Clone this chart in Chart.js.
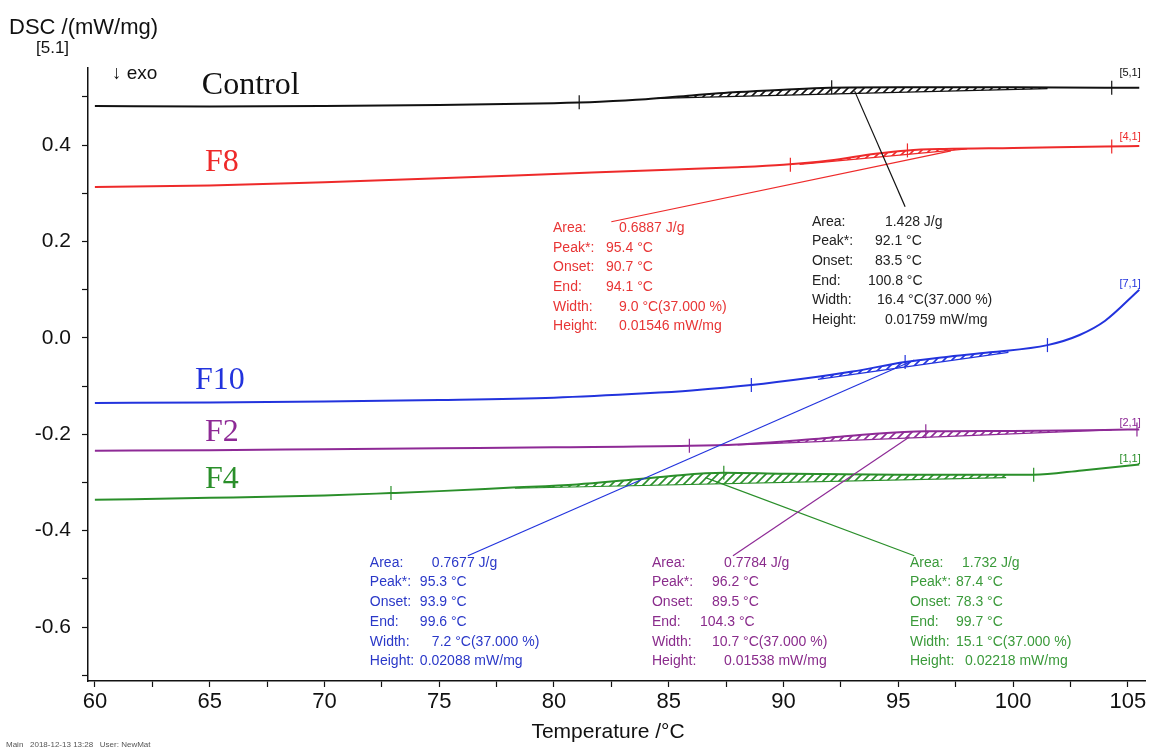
<!DOCTYPE html>
<html>
<head>
<meta charset="utf-8">
<script src="https://cdn.jsdelivr.net/npm/chart.js@4"></script>
<style>
  html, body { margin: 0; padding: 0; background: #fff; }
  #wrap { width: 1160px; height: 751px; position: relative; }
</style>
</head>
<body>
<div id="wrap"><canvas id="dsc"></canvas></div>
<script>
// tick values
const xTicks = [60, 62.5, 65, 67.5, 70, 72.5, 75, 77.5, 80, 82.5, 85, 87.5, 90, 92.5, 95, 97.5, 100, 102.5, 105];
const yTicks = [-0.7, -0.6, -0.5, -0.4, -0.3, -0.2, -0.1, 0, 0.1, 0.2, 0.3, 0.4, 0.5];

// curves (temperature / DSC)
const controlT   = [60, 65, 70, 75, 80, 82, 84, 86, 88, 90, 92, 95, 100, 104, 105.5];
const controlDSC = [0.481, 0.480, 0.481, 0.483, 0.487, 0.490, 0.495, 0.503, 0.510, 0.515, 0.519, 0.520, 0.520, 0.519, 0.519];

const f8T   = [60, 65, 70, 75, 80, 85, 88, 90, 92, 94, 95.4, 97, 100, 104, 105.5];
const f8DSC = [0.313, 0.316, 0.323, 0.331, 0.340, 0.349, 0.354, 0.359, 0.368, 0.382, 0.389, 0.392, 0.394, 0.397, 0.398];

const f10T   = [60, 65, 70, 75, 80, 84, 86, 88.6, 91, 93, 95.3, 97, 99, 101.5, 102.9, 104, 105.5];
const f10DSC = [-0.135, -0.134, -0.132, -0.129, -0.124, -0.115, -0.109, -0.098, -0.084, -0.070, -0.050, -0.040, -0.030, -0.015, 0.006, 0.035, 0.100];

const f2T   = [60, 65, 70, 75, 80, 85.9, 88, 90, 92, 94, 96.2, 100, 104, 105.5];
const f2DSC = [-0.234, -0.233, -0.231, -0.229, -0.227, -0.224, -0.221, -0.215, -0.207, -0.199, -0.194, -0.193, -0.191, -0.190];

const f4T   = [60, 65, 70, 72.9, 75, 78, 81, 83, 85, 87.4, 90, 95, 100.9, 103, 105.5];
const f4DSC = [-0.336, -0.332, -0.327, -0.322, -0.318, -0.311, -0.304, -0.296, -0.287, -0.280, -0.282, -0.284, -0.284, -0.275, -0.263];

// peak baselines (start, end)
const controlBase = [[84.5, 0.497], [101.5, 0.517]];
const f8Base      = [[90.7, 0.360], [98.0, 0.392]];
const f10Base     = [[91.5, -0.086], [99.8, -0.030]];
const f2Base      = [[88.0, -0.222], [104.3, -0.191]];
const f4Base      = [[78.3, -0.312], [99.7, -0.290]];

// small cross marks on curves
const controlMarks = [[81.1, 0.489], [92.1, 0.520], [104.3, 0.519]];
const f8Marks      = [[90.3, 0.359], [95.4, 0.389], [104.3, 0.397]];
const f10Marks     = [[88.6, -0.098], [95.3, -0.050], [101.5, -0.015]];
const f2Marks      = [[85.9, -0.224], [96.2, -0.194], [105.4, -0.190]];
const f4Marks      = [[72.9, -0.322], [87.4, -0.280], [100.9, -0.284]];

// leader lines from the result boxes
const controlLeader = [[93.1, 0.512], [95.3, 0.272]];
const f8Leader      = [[82.5, 0.241], [97.3, 0.388]];
const f10Leader     = [[76.25, -0.452], [95.7, -0.046]];
const f2Leader      = [[87.8, -0.452], [95.5, -0.205]];
const f4Leader      = [[95.7, -0.452], [86.6, -0.290]];

// peak evaluation results
const infoLabels  = ['Area:', 'Peak*:', 'Onset:', 'End:', 'Width:', 'Height:'];
const controlInfo = ['1.428 J/g', '92.1 °C', '83.5 °C', '100.8 °C', '16.4 °C(37.000 %)', '0.01759 mW/mg'];
const f8Info      = ['0.6887 J/g', '95.4 °C', '90.7 °C', '94.1 °C', '9.0 °C(37.000 %)', '0.01546 mW/mg'];
const f10Info     = ['0.7677 J/g', '95.3 °C', '93.9 °C', '99.6 °C', '7.2 °C(37.000 %)', '0.02088 mW/mg'];
const f2Info      = ['0.7784 J/g', '96.2 °C', '89.5 °C', '104.3 °C', '10.7 °C(37.000 %)', '0.01538 mW/mg'];
const f4Info      = ['1.732 J/g', '87.4 °C', '78.3 °C', '99.7 °C', '15.1 °C(37.000 %)', '0.02218 mW/mg'];

const samples = [
  { name: 'Control', tag: '[5,1]', t: controlT, v: controlDSC, base: controlBase, marks: controlMarks, leader: controlLeader, info: controlInfo,
    color: '#111111', text: '#222222', nameAt: [64.66, 0.524], tagAt: [105.1, 0.550], infoAt: [91.24, 0.241], offs: [73, 63, 63, 56, 65, 73] },
  { name: 'F8', tag: '[4,1]', t: f8T, v: f8DSC, base: f8Base, marks: f8Marks, leader: f8Leader, info: f8Info,
    color: '#ee2a2a', text: '#e83535', nameAt: [64.8, 0.363], tagAt: [105.1, 0.417], infoAt: [79.96, 0.228], offs: [66, 53, 53, 53, 66, 66] },
  { name: 'F10', tag: '[7,1]', t: f10T, v: f10DSC, base: f10Base, marks: f10Marks, leader: f10Leader, info: f10Info,
    color: '#2233dd', text: '#2a38c8', nameAt: [64.36, -0.088], tagAt: [105.1, 0.112], infoAt: [71.98, -0.467], offs: [62, 50, 50, 50, 62, 50] },
  { name: 'F2', tag: '[2,1]', t: f2T, v: f2DSC, base: f2Base, marks: f2Marks, leader: f2Leader, info: f2Info,
    color: '#8e2a96', text: '#8a2c8c', nameAt: [64.8, -0.196], tagAt: [105.1, -0.176], infoAt: [84.27, -0.467], offs: [72, 60, 60, 48, 60, 72] },
  { name: 'F4', tag: '[1,1]', t: f4T, v: f4DSC, base: f4Base, marks: f4Marks, leader: f4Leader, info: f4Info,
    color: '#2a8f2a', text: '#3a9a3a', nameAt: [64.8, -0.295], tagAt: [105.1, -0.251], infoAt: [95.51, -0.467], offs: [52, 46, 46, 46, 46, 55] }
];

Chart.defaults.font.family = '"Liberation Sans", Arial, sans-serif';
Chart.defaults.color = '#111';

function hatch(color) {
  const c = document.createElement('canvas');
  c.width = 8; c.height = 8;
  const g = c.getContext('2d');
  g.strokeStyle = color;
  g.lineWidth = 1.6;
  g.beginPath();
  g.moveTo(0, 8); g.lineTo(8, 0);
  g.moveTo(-2, 2); g.lineTo(2, -2);
  g.moveTo(6, 10); g.lineTo(10, 6);
  g.stroke();
  return g.createPattern(c, 'repeat');
}

const pts = arr => arr.map(p => ({ x: p[0], y: p[1] }));

const datasets = [];
samples.forEach(s => {
  const curveIdx = datasets.length;
  datasets.push({
    data: s.t.map((t, i) => ({ x: t, y: s.v[i] })),
    showLine: true, borderColor: s.color, borderWidth: 2, pointRadius: 0,
    cubicInterpolationMode: 'monotone', fill: false
  });
  datasets.push({
    data: pts(s.base), showLine: true, borderColor: s.color, borderWidth: 1.2,
    pointRadius: 0, fill: { target: curveIdx }, backgroundColor: hatch(s.color)
  });
  datasets.push({
    data: pts(s.leader), showLine: true, borderColor: s.color, borderWidth: 1.2,
    pointRadius: 0, fill: false
  });
  datasets.push({
    data: pts(s.marks), showLine: false, pointStyle: 'line', rotation: 90,
    pointRadius: 7, borderColor: s.color, borderWidth: 1.2
  });
});

const textPlugin = {
  id: 'dscText',
  afterDraw(chart) {
    const ctx = chart.ctx, xs = chart.scales.x, ys = chart.scales.y;
    const px = v => xs.getPixelForValue(v), py = v => ys.getPixelForValue(v);
    ctx.save();
    ctx.textBaseline = 'middle';
    ctx.textAlign = 'left';
    ctx.fillStyle = '#111';
    ctx.font = '22px "Liberation Sans", Arial';
    ctx.fillText('DSC /(mW/mg)', 9, 28);
    ctx.font = '17px "Liberation Sans", Arial';
    ctx.fillText('[5.1]', 36, 48);
    ctx.font = '19px "Liberation Sans", Arial';
    ctx.fillText('\u2193 exo', 112, 74);
    ctx.textAlign = 'center';
    ctx.font = '21px "Liberation Sans", Arial';
    ctx.fillText('Temperature /°C', 608, 732);
    ctx.textAlign = 'left';
    ctx.font = '8px "Liberation Sans", Arial';
    ctx.fillStyle = '#555';
    ctx.fillText('Main   2018-12-13 13:28   User: NewMat', 6, 745);

    samples.forEach(s => {
      ctx.fillStyle = s.color;
      ctx.font = '32px "Liberation Serif", "Times New Roman", serif';
      ctx.fillText(s.name, px(s.nameAt[0]), py(s.nameAt[1]));
      ctx.font = '11px "Liberation Sans", Arial';
      ctx.textAlign = 'center';
      ctx.fillText(s.tag, px(s.tagAt[0]), py(s.tagAt[1]));
      ctx.textAlign = 'left';
      ctx.fillStyle = s.text;
      ctx.font = '14px "Liberation Sans", Arial';
      const x0 = px(s.infoAt[0]), y0 = py(s.infoAt[1]);
      infoLabels.forEach((lab, i) => {
        const y = y0 + i * 19.7;
        ctx.fillText(lab, x0, y);
        ctx.fillText(s.info[i], x0 + s.offs[i], y);
      });
    });
    ctx.restore();
  }
};

new Chart(document.getElementById('dsc'), {
  type: 'scatter',
  data: { datasets },
  options: {
    responsive: true,
    maintainAspectRatio: false,
    animation: false,
    layout: { padding: { top: 68, right: 15, left: 0, bottom: 0 } },
    plugins: { legend: { display: false }, tooltip: { enabled: false } },
    scales: {
      x: {
        type: 'linear', min: 59.7, max: 105.75,
        afterBuildTicks: s => { s.ticks = xTicks.map(v => ({ value: v })); },
        afterFit: s => { s.height = 70; },
        grid: { drawOnChartArea: false, tickLength: 6, color: '#111', tickWidth: 1.2 },
        border: { display: true, color: '#111', width: 1.5 },
        ticks: {
          autoSkip: false, maxRotation: 0, padding: 2,
          font: { size: 22 }, color: '#111',
          callback: v => (v % 5 === 0 ? String(v) : '')
        },
        title: { display: false }
      },
      y: {
        type: 'linear', min: -0.712, max: 0.56,
        afterBuildTicks: s => { s.ticks = yTicks.map(v => ({ value: v })); },
        afterFit: s => { s.width = 88; },
        grid: { drawOnChartArea: false, tickLength: 6, color: '#111', tickWidth: 1.2 },
        border: { display: true, color: '#111', width: 1.5 },
        ticks: {
          autoSkip: false, padding: 11,
          font: { size: 21 }, color: '#111',
          callback: v => (Math.abs(Math.round(v * 10)) % 2 === 0 ? v.toFixed(1) : '')
        }
      }
    }
  },
  plugins: [textPlugin]
});
</script>
</body>
</html>
